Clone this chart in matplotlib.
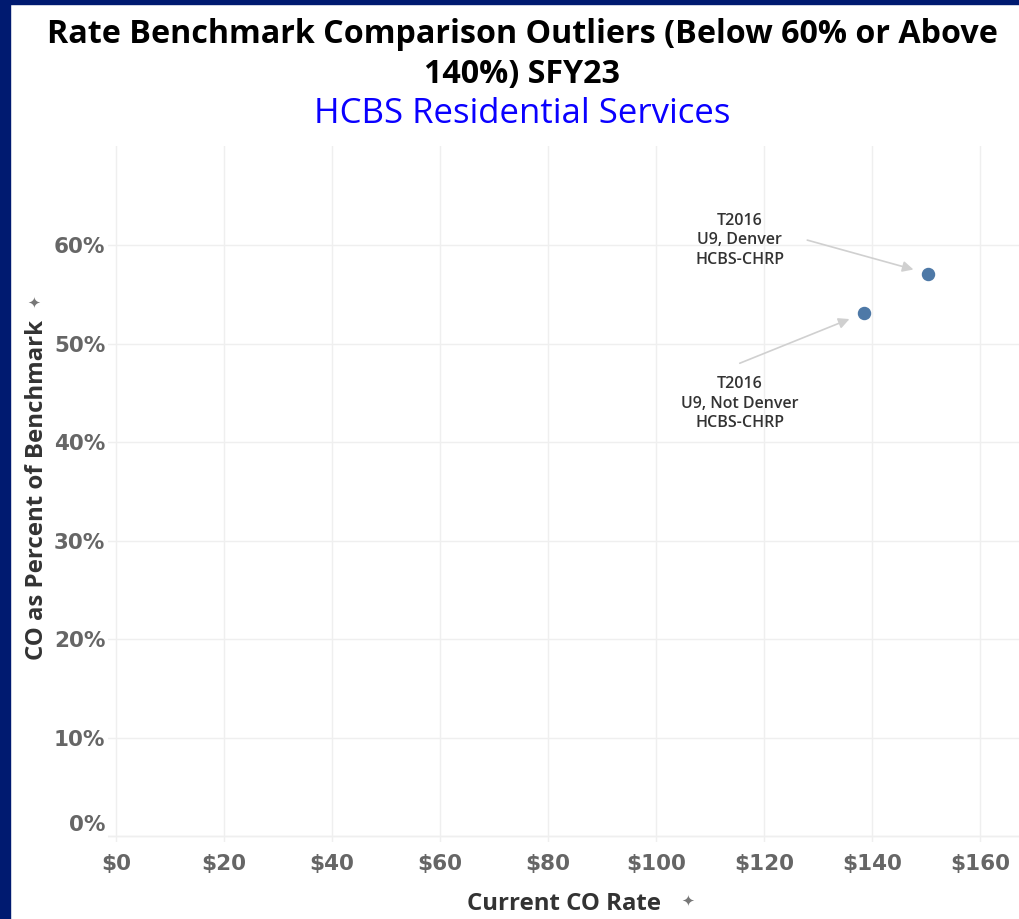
import matplotlib.pyplot as plt
from matplotlib.patches import Rectangle
from matplotlib.transforms import ScaledTranslation

# data
rates = [150.4, 138.6]            # Current CO Rate ($)
pct_benchmark = [57.1, 53.1]      # CO as percent of benchmark
labels = ["T2016\nU9, Denver\nHCBS-CHRP", "T2016\nU9, Not Denver\nHCBS-CHRP"]
label_pos = [(115.5, 60.5), (115.5, 43.9)]
arrow_start = [(128.0, 60.5), (115.5, 48.0)]

x_ticks = [0, 20, 40, 60, 80, 100, 120, 140, 160]
y_ticks = [0, 10, 20, 30, 40, 50, 60]

plt.rcParams['font.family'] = ['Open Sans', 'DejaVu Sans']

fig = plt.figure(figsize=(10.2, 9.19), dpi=100)
fig.patch.set_facecolor('white')

# navy frame on left and top
fig.patches.append(Rectangle((0, 0), 10 / 1020, 1, transform=fig.transFigure,
                             color='#001a70', zorder=10))
fig.patches.append(Rectangle((0, 1 - 4 / 919), 1, 4 / 919, transform=fig.transFigure,
                             color='#001a70', zorder=10))

ax = fig.add_axes([0.1059, 0.0838, 0.8941, 0.7573])
ax.set_xlim(-1.5, 167.4)
ax.set_ylim(-0.6, 70.05)

for s in ax.spines.values():
    s.set_visible(False)

tick_font = dict(family='DejaVu Sans', fontweight='bold', fontsize=15.5, color='#666666')
ax.set_xticks(x_ticks)
ax.set_xticklabels([f'${v}' for v in x_ticks], **tick_font)
ax.set_yticks(y_ticks)
ax.set_yticklabels([f'{v}%' for v in y_ticks], **tick_font)
ax.tick_params(axis='x', length=0, pad=9)
ax.tick_params(axis='y', length=0, pad=2)
# the 0% label sits a little above its gridline, as in the original
zero_lab = ax.get_yticklabels()[0]
zero_lab.set_transform(zero_lab.get_transform() + ScaledTranslation(0, 0.13, fig.dpi_scale_trans))
ax.grid(True, color='#efefef', linewidth=1)
ax.axhline(0, color='#ebebeb', linewidth=1, zorder=0)
ax.set_axisbelow(True)

ax.scatter(rates, pct_benchmark, s=75, color='#4e79a7', zorder=3)

for (xr, yp), lab, (tx, ty), (sx, sy) in zip(zip(rates, pct_benchmark), labels, label_pos, arrow_start):
    ax.text(tx, ty, lab, ha='center', va='center', fontsize=11.5, color='#333333',
            fontweight='semibold', linespacing=1.3)
    ax.annotate('', xy=(xr - (xr - sx) * 0.1, yp + (sy - yp) * 0.1), xytext=(sx, sy),
                arrowprops=dict(arrowstyle='-|>', color='#d0d0d0', lw=1.2,
                                mutation_scale=16, shrinkA=0, shrinkB=2))

ax.set_xlabel('Current CO Rate', fontsize=17.3, fontweight='bold', color='#333333')
ax.xaxis.set_label_coords(0.5, -0.072)
ax.set_ylabel('CO as Percent of Benchmark', fontsize=17.3, fontweight='bold',
              color='#333333')
ax.yaxis.set_label_coords(-0.065, 0.506)

# pin icons next to the axis titles
fig.text(688 / 1020, 1 - 901 / 919, '\u2726', ha='center', va='center',
         fontsize=11, color='#777777', family='DejaVu Sans')
fig.text(34 / 1020, 1 - 303 / 919, '\u2726', ha='center', va='center',
         fontsize=11, color='#777777', family='DejaVu Sans')

fig.text(0.512, 0.962, 'Rate Benchmark Comparison Outliers (Below 60% or Above',
         ha='center', va='center', fontsize=23.2, fontweight='bold', color='black')
fig.text(0.512, 0.919, '140%) SFY23', ha='center', va='center', fontsize=23.2,
         fontweight='bold', color='black')
fig.text(0.512, 0.876, 'HCBS Residential Services', ha='center', va='center',
         fontsize=25, fontweight='medium', color='#0a00ff')

fig.savefig('out.png', dpi=100)
